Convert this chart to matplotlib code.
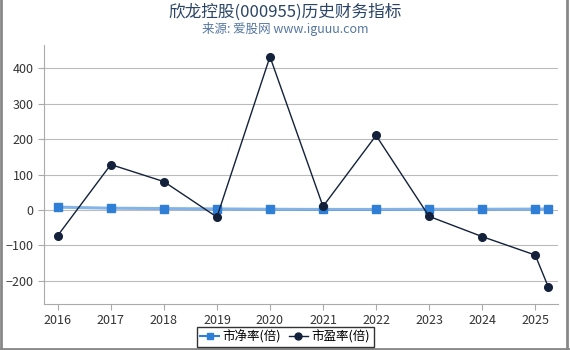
import matplotlib
matplotlib.use("Agg")
import matplotlib.pyplot as plt
from matplotlib.lines import Line2D

plt.rcParams['font.family'] = ['Noto Sans CJK SC', 'DejaVu Sans']

x_pos = [2016, 2017, 2018, 2019, 2020, 2021, 2022, 2023, 2024, 2025, 2025.25]
pb = [8, 5, 4, 3, 2, 1.5, 1.5, 2, 2, 2.5, 3]
pe = [-72, 128, 80, -20, 432, 10, 210, -18, -75, -127, -218]
xticks = [2016, 2017, 2018, 2019, 2020, 2021, 2022, 2023, 2024, 2025]
yticks = [-200, -100, 0, 100, 200, 300, 400]

fig = plt.figure(figsize=(5.7, 3.5), dpi=100)
ax = fig.add_axes([44/570, 46/350, (558-44)/570, (304-45)/350])

ax.plot(x_pos, pb, color='#5b9be0', lw=2.2, alpha=0.75, zorder=2)
ax.plot(x_pos, pb, color='#2f7fd6', lw=0, marker='s', ms=6, zorder=3)
ax.plot(x_pos, pe, color='#13213a', lw=1, marker='o', ms=5.5, zorder=4)

ax.set_xlim(2015.74, 2025.43)
ax.set_ylim(-265, 465)
ax.set_xticks(xticks)
ax.set_xticklabels([str(t) for t in xticks])
ax.set_yticks(yticks)
ax.grid(axis='y', color='#bbbbbb', lw=0.8)
ax.set_axisbelow(True)
for s in ['top', 'right']:
    ax.spines[s].set_visible(False)
for s in ['left', 'bottom']:
    ax.spines[s].set_color('#aaaaaa')
ax.tick_params(colors='#aaaaaa', labelcolor='#333333', labelsize=9, length=4)

fig.text(0.5, 0.965, '欣龙控股(000955)历史财务指标', ha='center', va='center',
         fontsize=12, color='#2b4566')
fig.text(0.5, 0.918, '来源: 爱股网 www.iguuu.com', ha='center', va='center',
         fontsize=9, color='#5577a0')

handles = [Line2D([], [], color='#2f7fd6', marker='s', ms=5, lw=1.5),
           Line2D([], [], color='#13213a', marker='o', ms=5, lw=1)]
leg = fig.legend(handles, ['市净率(倍)', '市盈率(倍)'], loc='center',
                 bbox_to_anchor=(285/570, 1 - 337/350), ncol=2, frameon=True,
                 fancybox=False, edgecolor='black', fontsize=9,
                 handlelength=1.5, handletextpad=0.3, columnspacing=0.6,
                 borderpad=0.3)
leg.get_frame().set_linewidth(1)

# figure border
fig.add_artist(Line2D([0.5/570, 0.5/570], [0, 1], transform=fig.transFigure, color='#888888', lw=2))
fig.add_artist(Line2D([567/570, 567/570], [0, 1], transform=fig.transFigure, color='#888888', lw=2))
fig.add_artist(Line2D([0, 1], [1.5/350, 1.5/350], transform=fig.transFigure, color='#888888', lw=2))

fig.savefig('out.png', dpi=100)
